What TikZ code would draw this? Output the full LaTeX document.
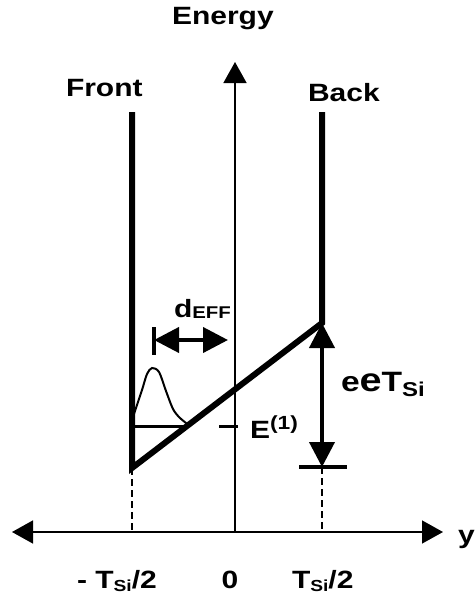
\documentclass[tikz,border=0pt]{standalone}
\usepackage{fontspec}
\setmainfont{Liberation Sans}
\usepackage{graphicx}
\usetikzlibrary{arrows.meta}
\newcommand{\myhs}[1]{\scalebox{1.2}[1]{#1}}
\newcommand{\myfs}[1]{\fontsize{#1}{#1}\selectfont}
\newcommand{\mysub}[1]{\raisebox{-3.6pt}{\myfs{16}#1}}
\begin{document}
\begin{tikzpicture}[x=1pt,y=-1pt,
  lbl/.style={inner sep=0pt,outer sep=0pt,font=\bfseries\myfs{25}},
  axisline/.style={line width=1.5pt},
  bigtip/.style={-{Triangle[length=21pt,width=23pt]}},
  wall/.style={line width=6pt,line join=miter},
  guide/.style={line width=1.8pt,dash pattern=on 7pt off 4pt},
  dim/.style={line width=4pt,{Triangle[length=25pt,width=25pt]}-{Triangle[length=25pt,width=25pt]}},
  tick/.style={line width=3.5pt}]
\useasboundingbox (0,0) rectangle (476,598);
% coordinates
\coordinate (ytop) at (235,62);
\coordinate (ybot) at (235,532);
\coordinate (xl) at (12,532);
\coordinate (xr) at (443,532);
\coordinate (ftop) at (132,112);
\coordinate (fbot) at (132,468);
\coordinate (btop) at (322,112);
\coordinate (bbot) at (322,323);
\coordinate (faxis) at (132,532);
\coordinate (baxis) at (322,532);
\coordinate (blow) at (322,467);
\coordinate (tickL) at (299,467);
\coordinate (tickR) at (347,467);
\coordinate (dtickT) at (154,327);
\coordinate (dtickB) at (154,355);
\coordinate (dL) at (154,340);
\coordinate (dR) at (228,340);
\coordinate (wL) at (135,426);
\coordinate (wR) at (188,426);
\coordinate (eL) at (219,426);
\coordinate (eR) at (238,426);
% axes
\draw[axisline,bigtip] (ybot) -- (ytop);
\draw[axisline,{Triangle[length=21pt,width=23pt]}-{Triangle[length=21pt,width=23pt]}] (xl) -- (xr);
% walls and potential
\draw[wall] (ftop) -- (fbot) -- (bbot) -- (btop);
% dashed guides
\draw[guide] (fbot) -- (faxis);
\draw[guide] (blow) -- (baxis);
% eET dimension
\draw[dim] (bbot) -- (blow);
\draw[tick] (tickL) -- (tickR);
% d_EFF
\draw[tick,line width=4pt] (dtickT) -- (dtickB);
\draw[dim] (dL) -- (dR);
% wavefunction
\draw[line width=3pt] (wL) -- (wR);
\draw[line width=2pt] plot[smooth] coordinates {(134,414) (142,390) (147,374) (152,368) (159,372) (166,391) (173,409) (180,418) (190,426)};
\draw[tick,line width=3pt] (eL) -- (eR);
% labels
\node[lbl,anchor=base west] (energy) at (172,24.3) {\myhs{Energy}};
\node[lbl,anchor=base west] (front) at (66,96.7) {\myhs{Front}};
\node[lbl,anchor=base west] (back) at (308,101.7) {\myhs{Back}};
\node[lbl,anchor=base west] (ylab) at (458,543) {\myhs{y}};
\node[lbl,anchor=base west] (deff) at (174,317) {\myhs{d\raisebox{-1.8pt}{\myfs{17}EFF}}};
\node[lbl,anchor=base west] (e1) at (250,438) {\myhs{E\raisebox{8.5pt}{\myfs{19}(1)}}};
\node[lbl,anchor=base west] (eet) at (341,391) {\myfs{28}\myhs{e{\myfs{33}e}T\raisebox{-5pt}{\myfs{20}Si}}};
\node[lbl,anchor=base west] (xm) at (77,588) {\myhs{- T\mysub{Si}/2}};
\node[lbl,anchor=base] (x0) at (230,588) {\myhs{0}};
\node[lbl,anchor=base west] (xp) at (292,588) {\myhs{T\mysub{Si}/2}};
\end{tikzpicture}
\end{document}
